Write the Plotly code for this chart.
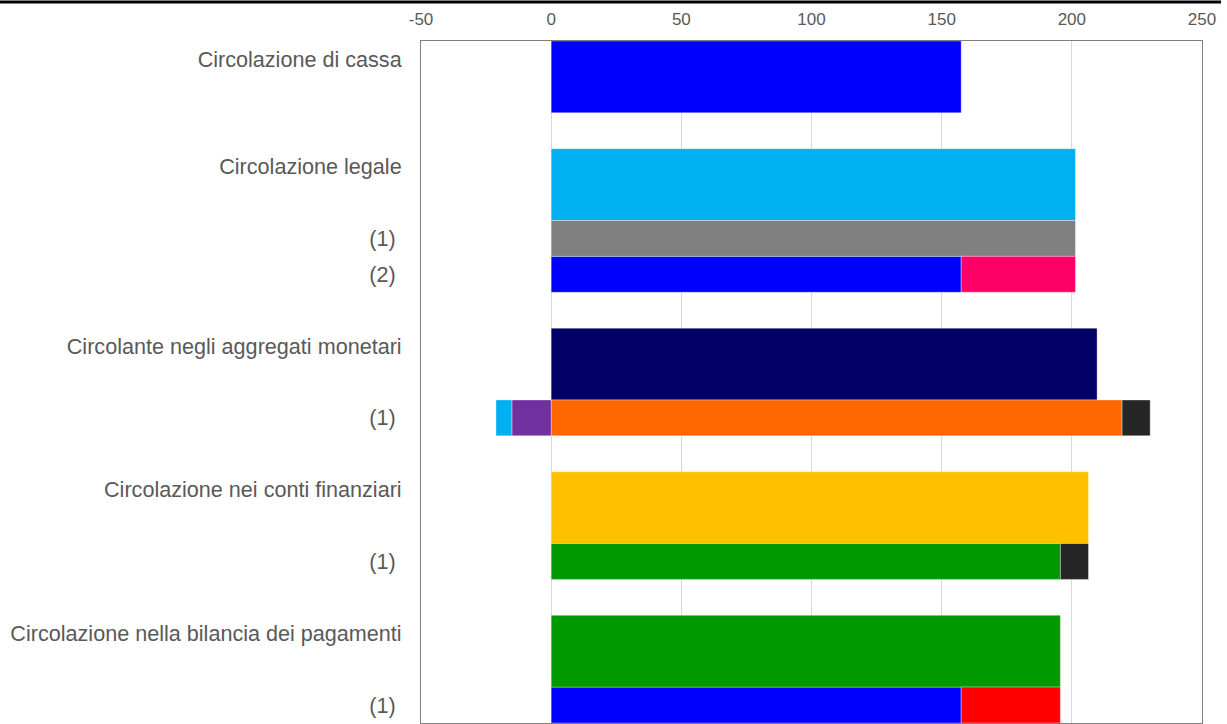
import plotly.graph_objects as go

# Row labels (top to bottom) and how many slots each bar occupies
row_labels = [
    "Circolazione di cassa",
    "Circolazione legale",
    "(1) ",
    "(2) ",
    "Circolante negli aggregati monetari",
    "(1) ",
    "Circolazione nei conti finanziari",
    "(1) ",
    "Circolazione nella bilancia dei pagamenti",
    "(1) ",
]
row_span = [2, 2, 1, 1, 2, 1, 2, 1, 2, 1]
gap_after = [1, 0, 0, 1, 0, 1, 0, 1, 0, 0]

# Component values (billions of euro), one entry per row
blue = [157.5, None, None, 157.5, None, None, None, None, None, 157.5]
light_blue = [None, 201.4, None, None, None, None, None, None, None, None]
grey = [None, None, 201.4, None, None, None, None, None, None, None]
navy = [None, None, None, None, 209.7, None, None, None, None, None]
orange = [None, None, None, None, None, 219.3, None, None, None, None]
gold = [None, None, None, None, None, None, 206.4, None, None, None]
green = [None, None, None, None, None, None, None, 195.6, 195.6, None]
pink = [None, None, None, 43.9, None, None, None, None, None, None]
red = [None, None, None, None, None, None, None, None, None, 38.1]
black = [None, None, None, None, None, 10.8, None, 10.8, None, None]
purple = [None, None, None, None, None, -15.1, None, None, None, None]
light_blue_neg = [None, None, None, None, None, -6.1, None, None, None, None]

x_ticks = [-50, 0, 50, 100, 150, 200, 250]
x_tick_text = ["-50", "0", "50", "100", "150", "200", "250"]

series = [
    (blue, "#0000FF"),
    (light_blue, "#00B0F0"),
    (grey, "#808080"),
    (navy, "#000066"),
    (orange, "#FF6600"),
    (gold, "#FFC000"),
    (green, "#009900"),
    (pink, "#FF0066"),
    (red, "#FF0000"),
    (black, "#262626"),
    (purple, "#7030A0"),
    (light_blue_neg, "#00B0F0"),
]

# Slot layout: each row starts where the previous one (plus gap) ended
starts = []
pos = 0
for span, gap in zip(row_span, gap_after):
    starts.append(pos)
    pos += span + gap
total_slots = pos
centers = [s + w / 2 for s, w in zip(starts, row_span)]
label_pos = [s + 0.5 for s in starts]

fig = go.Figure()
for values, color in series:
    fig.add_trace(go.Bar(
        x=values,
        y=centers,
        width=row_span,
        orientation="h",
        marker=dict(color=color, line=dict(color="rgba(255,255,255,0.6)", width=0.6)),
        showlegend=False,
        hoverinfo="x",
    ))

fig.update_layout(
    width=1227,
    height=724,
    barmode="relative",
    plot_bgcolor="white",
    paper_bgcolor="white",
    margin=dict(l=421, r=25, t=41, b=1),
    font=dict(family="Liberation Sans, Arial, sans-serif", color="#595959"),
    xaxis=dict(
        side="top",
        range=[-50, 250],
        tickvals=x_ticks,
        ticktext=x_tick_text,
        showgrid=True,
        gridcolor="#D9D9D9",
        gridwidth=1,
        zeroline=True,
        zerolinecolor="#D9D9D9",
        zerolinewidth=1,
        showline=True,
        linecolor="#808080",
        linewidth=1,
        mirror=True,
        ticks="",
        ticklabelstandoff=8,
        tickfont=dict(size=17, color="#595959"),
    ),
    yaxis=dict(
        range=[total_slots, 0],
        tickvals=label_pos,
        ticktext=row_labels,
        showgrid=False,
        zeroline=False,
        showline=True,
        linecolor="#808080",
        linewidth=1,
        mirror=True,
        ticks="",
        ticklabelstandoff=14,
        tickfont=dict(size=21.6, color="#595959"),
    ),
    shapes=[
        dict(
            type="line", xref="paper", yref="paper",
            x0=-421 / 781, x1=(1221 - 421) / 781,
            y0=(723 - 2) / 682, y1=(723 - 2) / 682,
            line=dict(color="black", width=3),
        )
    ],
)

fig.write_html("out.html")
